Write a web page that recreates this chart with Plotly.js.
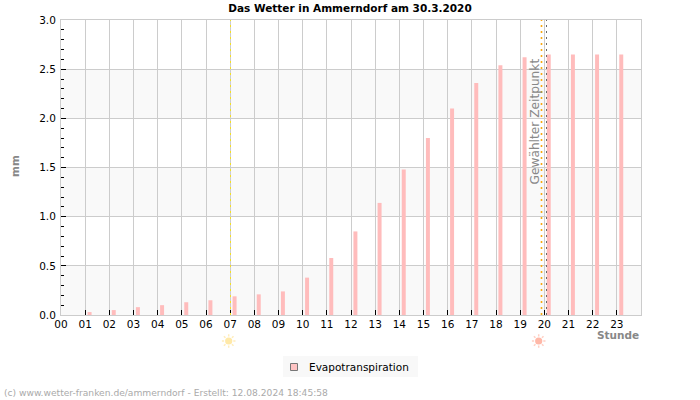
<!DOCTYPE html>
<html>
<head>
<meta charset="utf-8">
<script src="https://cdn.plot.ly/plotly-3.0.1.min.js"></script>
<style>html,body{margin:0;padding:0;background:#fff}#chart{width:700px;height:400px}</style>
</head>
<body>
<div id="chart"></div>
<script>
// Hourly evapotranspiration for one day
const hours = [1,2,3,4,5,6,7,8,9,10,11,12,13,14,15,16,17,18,19,20,21,22,23];
const evapotranspiration = [0.03,0.05,0.08,0.10,0.13,0.15,0.19,0.21,0.24,0.38,0.58,0.85,1.14,1.48,1.80,2.10,2.36,2.54,2.62,2.65,2.65,2.65,2.65];
const tickHours = [0,1,2,3,4,5,6,7,8,9,10,11,12,13,14,15,16,17,18,19,20,21,22,23];
const tickLabels = ["00","01","02","03","04","05","06","07","08","09","10","11","12","13","14","15","16","17","18","19","20","21","22","23"];
const bandStarts = [0,1,2];
const sunrise = 7.014;
const sunset = 19.883;
const selectedTime = 20.09;

const font = 'DejaVu Sans, sans-serif';
const left = 61;
const plotWidth = 580;
const plotHeight = 295;
// Convert page pixels to paper fractions of the plot area
const px = v => (v - left) / plotWidth;
const py = v => (315 - v) / plotHeight;

const traces = [
  {
    type: 'bar', x: hours, y: evapotranspiration, name: 'Evapotranspiration',
    width: 0.165, offset: 0.1,
    marker: {color: '#ffbcbc', line: {width: 0}},
    showlegend: false, hoverinfo: 'x+y'
  }
];

const bands = bandStarts.map(b => ({
  type: 'rect', layer: 'below', xref: 'x', yref: 'y',
  x0: 0, x1: 24, y0: b, y1: b + 0.5,
  fillcolor: '#f9f9f9', line: {width: 0}
}));

const vline = (x, color, width) => ({
  type: 'line', layer: 'above', xref: 'x', yref: 'paper',
  x0: x, x1: x, y0: 0, y1: 1,
  line: {color: color, width: width, dash: '2px,4px'}
});

// Sun symbol under the axis: a disc with eight short rays
const sun = (cx, cy, disc, rays) => {
  const angles = [0, 45, 90, 135, 180, 225, 270, 315].map(a => a * Math.PI / 180);
  const path = angles.map(a =>
    'M' + px(cx + 4.6 * Math.cos(a)) + ',' + py(cy + 4.6 * Math.sin(a)) +
    'L' + px(cx + 6.8 * Math.cos(a)) + ',' + py(cy + 6.8 * Math.sin(a))).join('');
  return [
    {type: 'path', layer: 'above', xref: 'paper', yref: 'paper', path: path, line: {color: rays, width: 1.5}},
    {type: 'circle', layer: 'above', xref: 'paper', yref: 'paper',
     x0: px(cx - 3.6), x1: px(cx + 3.6), y0: py(cy + 3.6), y1: py(cy - 3.6),
     fillcolor: disc, line: {width: 0}}
  ];
};

// Legend box with its colour swatch
const legendBox = [
  {type: 'rect', layer: 'below', xref: 'paper', yref: 'paper',
   x0: px(283), x1: px(418), y0: py(356), y1: py(377),
   fillcolor: '#f8f8f8', line: {width: 0}},
  {type: 'rect', layer: 'above', xref: 'paper', yref: 'paper',
   x0: px(290.5), x1: px(297.5), y0: py(363.5), y1: py(370.5),
   fillcolor: '#ffc4c4', line: {color: '#777', width: 1}}
];

const layout = {
  width: 700, height: 400,
  margin: {l: left, r: 59, t: 20, b: 85, pad: 0},
  paper_bgcolor: '#fff', plot_bgcolor: '#fff',
  font: {family: font, size: 10.5, color: '#000'},
  title: {
    text: '<b>Das Wetter in Ammerndorf am 30.3.2020</b>',
    font: {family: font, size: 10.5, color: '#000'},
    x: 0.5, xref: 'container', xanchor: 'center', y: 0.978, yref: 'container', yanchor: 'middle'
  },
  xaxis: {
    range: [0, 24], tickmode: 'array', tickvals: tickHours, ticktext: tickLabels,
    ticks: 'inside', ticklen: 5, tickcolor: '#000', tickwidth: 1,
    showgrid: true, gridcolor: '#ccc', gridwidth: 1, zeroline: false,
    showline: true, linecolor: '#ccc', linewidth: 1, mirror: true,
    tickfont: {family: font, size: 10.5, color: '#000'}, tickangle: 0, automargin: false,
    ticklabelstandoff: -1
  },
  yaxis: {
    range: [0, 3], dtick: 0.5, tickformat: '.1f',
    ticks: 'inside', ticklen: 5, tickcolor: '#000', tickwidth: 1,
    minor: {dtick: 0.1, ticks: 'inside', ticklen: 3, tickcolor: '#000', tickwidth: 1, showgrid: false},
    showgrid: true, gridcolor: '#ccc', gridwidth: 1, zeroline: false,
    showline: true, linecolor: '#ccc', linewidth: 1, mirror: true,
    tickfont: {family: font, size: 10.5, color: '#000'}, automargin: false,
    ticklabelstandoff: 2
  },
  showlegend: false,
  shapes: [
    ...bands, ...legendBox,
    vline(sunrise, '#f5e020', 1), vline(sunset, '#f8a810', 1.6), vline(selectedTime, '#666', 1),
    ...sun(228.7, 341, '#ffe9a8', '#ffedbc'),
    ...sun(538.7, 341, '#ffb8a8', '#ffd0c4')
  ],
  annotations: [
    {xref: 'paper', yref: 'paper', x: px(15), y: py(166), text: '<b>mm</b>', textangle: -90, showarrow: false,
     font: {family: font, size: 10.5, color: '#888'}, xanchor: 'center', yanchor: 'middle'},
    {xref: 'paper', yref: 'paper', x: px(641), xanchor: 'right', y: py(334.5), yanchor: 'middle', text: '<b>Stunde</b>', showarrow: false,
     font: {family: font, size: 10.5, color: '#888'}},
    {xref: 'paper', yref: 'paper', x: px(534.5), y: py(187), text: 'Gewählter Zeitpunkt', textangle: -90, showarrow: false,
     font: {family: font, size: 12.2, color: '#888'}, xanchor: 'center', yanchor: 'bottom'},
    {xref: 'paper', yref: 'paper', x: px(307), y: py(366.5), text: 'Evapotranspiration', showarrow: false,
     font: {family: font, size: 10.5, color: '#000'}, xanchor: 'left', yanchor: 'middle'},
    {xref: 'paper', yref: 'paper', x: px(2), y: py(393), xanchor: 'left', yanchor: 'middle',
     text: '(c) www.wetter-franken.de/ammerndorf - Erstellt: 12.08.2024 18:45:58', showarrow: false,
     font: {family: font, size: 9.15, color: '#aaa'}}
  ]
};

Plotly.newPlot('chart', traces, layout, {displayModeBar: false, staticPlot: true});
</script>
</body>
</html>
